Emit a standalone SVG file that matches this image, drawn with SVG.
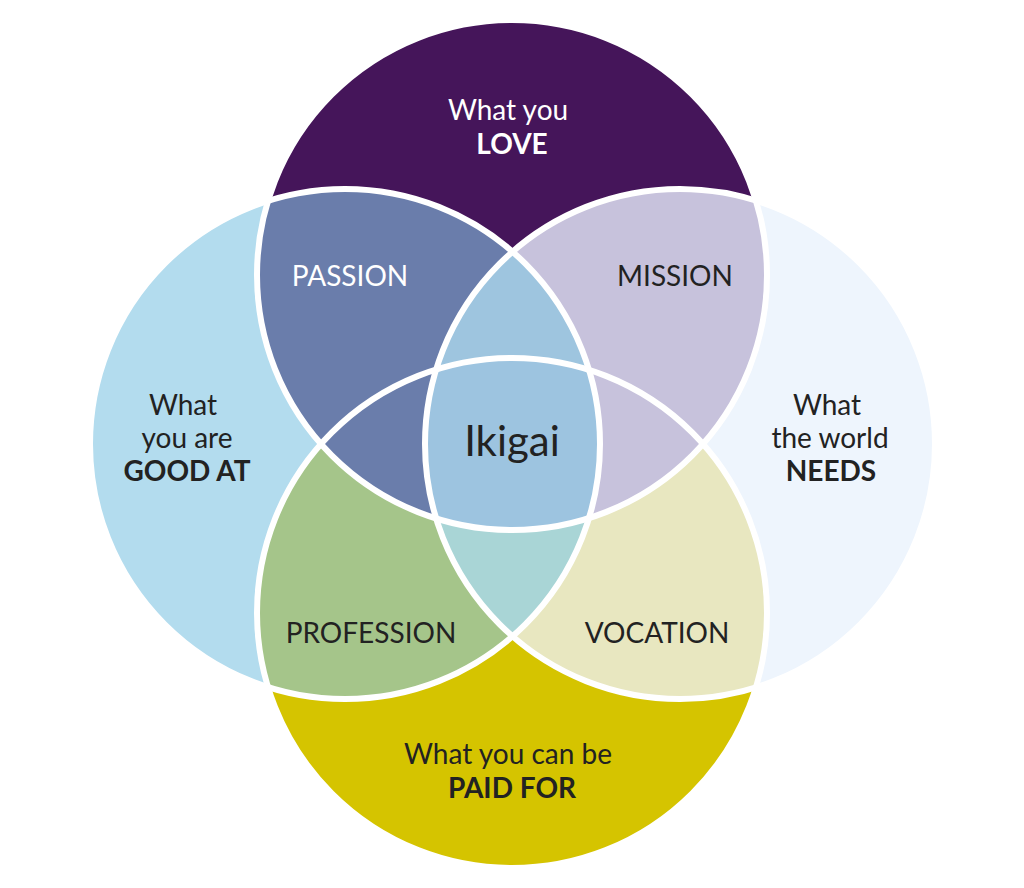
<svg xmlns="http://www.w3.org/2000/svg" width="1024" height="888" viewBox="0 0 1024 888">
<style>
text{font-family:"Lato","Liberation Sans",sans-serif;text-anchor:middle;fill:#222}
.w{fill:#fff}
.b{font-weight:bold}
.o{fill:none;stroke:#fff;stroke-width:6}
</style>
<defs>
<clipPath id="cT"><circle cx="512" cy="275" r="255"/></clipPath>
<clipPath id="cL"><circle cx="345" cy="444" r="255"/></clipPath>
<clipPath id="cR"><circle cx="680" cy="444" r="255"/></clipPath>
<clipPath id="cB"><circle cx="512" cy="613" r="255"/></clipPath>
</defs>
<rect width="1024" height="888" fill="#fff"/>
<g id="circles">
<circle cx="512" cy="275" r="255" fill="#45155a"/>
<circle cx="345" cy="444" r="255" fill="#b3dcee"/>
<circle cx="680" cy="444" r="255" fill="#eef5fd"/>
<circle cx="512" cy="613" r="255" fill="#d5c400"/>
</g>
<g id="pairs">
<circle cx="345" cy="444" r="255" fill="#6a7dab" clip-path="url(#cT)"/>
<circle cx="680" cy="444" r="255" fill="#c7c2dc" clip-path="url(#cT)"/>
<circle cx="345" cy="444" r="255" fill="#a5c58a" clip-path="url(#cB)"/>
<circle cx="680" cy="444" r="255" fill="#e8e7c0" clip-path="url(#cB)"/>
</g>
<g id="triples">
<g clip-path="url(#cT)"><circle cx="680" cy="444" r="255" fill="#9ec5df" clip-path="url(#cL)"/></g>
<g clip-path="url(#cB)"><circle cx="680" cy="444" r="255" fill="#a9d5d6" clip-path="url(#cL)"/></g>
<g clip-path="url(#cT)"><g clip-path="url(#cB)"><circle cx="345" cy="444" r="255" fill="#6a7dab"/><circle cx="680" cy="444" r="255" fill="#c7c2dc"/><circle cx="680" cy="444" r="255" fill="#9dc4e0" clip-path="url(#cL)"/></g></g>
</g>
<g id="outlines">
<circle class="o" cx="512" cy="275" r="255"/>
<circle class="o" cx="345" cy="444" r="255"/>
<circle class="o" cx="680" cy="444" r="255"/>
<circle class="o" cx="512" cy="613" r="255"/>
</g>
<g id="labels" font-size="28">
<text class="w" x="508" y="120">What you</text>
<text class="w b" x="512" y="154">LOVE</text>
<text class="w" x="350" y="286">PASSION</text>
<text x="675" y="286">MISSION</text>
<text x="183" y="415">What</text>
<text x="187" y="448">you are</text>
<text class="b" x="187" y="481">GOOD AT</text>
<text x="827" y="415">What</text>
<text x="830" y="448">the world</text>
<text class="b" x="831" y="481">NEEDS</text>
<text x="512" y="456" font-size="42">Ikigai</text>
<text x="371" y="643">PROFESSION</text>
<text x="657" y="643">VOCATION</text>
<text x="508" y="764">What you can be</text>
<text class="b" x="512" y="798">PAID FOR</text>
</g>
</svg>
